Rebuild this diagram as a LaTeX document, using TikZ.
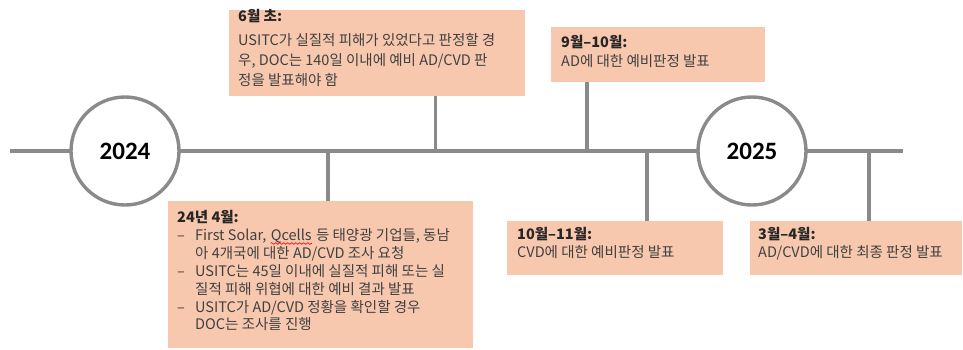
\documentclass[tikz,border=0pt]{standalone}
\usepackage{fontspec}
\setmainfont{Noto Sans CJK KR}
\newfontfamily\yearfont{Carlito}
\usetikzlibrary{decorations.pathmorphing}
\definecolor{linegray}{HTML}{8A8A8A}
\definecolor{peach}{HTML}{F7C8AE}
\definecolor{txtgray}{HTML}{404040}
\definecolor{hdrgray}{HTML}{262626}
\begin{document}
\begin{tikzpicture}[x=1pt,y=-1pt,
  tl/.style={draw=linegray,line width=3.4pt},
  yearc/.style={circle,draw=linegray,line width=3.4pt,fill=white,minimum size=108pt,inner sep=0pt,text=black,font=\yearfont\bfseries\fontsize{25}{30}\selectfont},
  box/.style={fill=peach,inner sep=0pt},
  ln/.style={anchor=base west,inner sep=0pt,text=txtgray,font=\fontsize{14.5}{18}\selectfont},
  hd/.style={ln,text=hdrgray,font=\bfseries\fontsize{14.5}{18}\selectfont}
]
\useasboundingbox (0,0) rectangle (963,350);
% main line
\coordinate (L) at (10,151);
\coordinate (R) at (903,151);
\draw[tl] (L) -- (R);
% tick coordinates
\coordinate (t1) at (328,151);
\coordinate (t2) at (435.5,151);
\coordinate (t3) at (587,151);
\coordinate (t4) at (647,151);
\coordinate (t5) at (869,151);
% boxes
\node[box,minimum width=305pt,minimum height=147pt] (b1) at (320.5,274.5) {};
\node[box,minimum width=296pt,minimum height=86pt] (b2) at (377,53) {};
\node[box,minimum width=214pt,minimum height=55pt] (b3) at (658,54.5) {};
\node[box,minimum width=216pt,minimum height=54pt] (b4) at (615,248) {};
\node[box,minimum width=212pt,minimum height=54pt] (b5) at (856,248) {};
% ticks
\draw[tl] (t1) -- (t1 |- b1.north);
\draw[tl] (t2) -- (t2 |- b2.south);
\draw[tl] (t3) -- (t3 |- b3.south);
\draw[tl] (t4) -- (t4 |- b4.north);
\draw[tl] (t5) -- (t5 |- b5.north);
% year circles
\node[yearc] (c24) at (125,151) {2024};
\node[yearc] (c25) at (752,151) {2025};
% box 1 text
\node[hd] (h1) at (177,222.5) {24년 4월:};
\node[ln] (d1) at (177,240.5) {–};
\node[ln] (l1a) at (195,240.5) {First Solar,};
\node[ln] (q) at ([xshift=4pt]l1a.base east) {Qcells};
\node[ln] (l1b) at ([xshift=4pt]q.base east) {등 태양광 기업들, 동남};
\node[ln] (l2) at (195,258.5) {아 4개국에 대한 AD/CVD 조사 요청};
\node[ln] (d2) at (177,276.5) {–};
\node[ln] (l3) at (195,276.5) {USITC는 45일 이내에 실질적 피해 또는 실};
\node[ln] (l4) at (195,294) {질적 피해 위협에 대한 예비 결과 발표};
\node[ln] (d3) at (177,312) {–};
\node[ln] (l5) at (195,312) {USITC가 AD/CVD 정황을 확인할 경우};
\node[ln] (l6) at (195,329.5) {DOC는 조사를 진행};
\draw[red,line width=0.6pt,decorate,decoration={snake,amplitude=0.9pt,segment length=4pt}]
  ([yshift=-3pt]q.base west) -- ([yshift=-3pt]q.base east);
% box 2 text
\node[hd] (h2) at (238,21.5) {6월 초:};
\node[ln] (m1) at (238,46) {USITC가 실질적 피해가 있었다고 판정할 경};
\node[ln] (m2) at (238,66) {우, DOC는 140일 이내에 예비 AD/CVD 판};
\node[ln] (m3) at (238,85.5) {정을 발표해야 함};
% box 3 text
\node[hd] (h3) at (561,47.5) {9월–10월:};
\node[ln] (n1) at (561,66.5) {AD에 대한 예비판정 발표};
% box 4 text
\node[hd] (h4) at (517,239.5) {10월–11월:};
\node[ln] (o1) at (517,257.5) {CVD에 대한 예비판정 발표};
% box 5 text
\node[hd] (h5) at (758,239.5) {3월–4월:};
\node[ln] (p1) at (758,257.5) {AD/CVD에 대한 최종 판정 발표};
\end{tikzpicture}
\end{document}
